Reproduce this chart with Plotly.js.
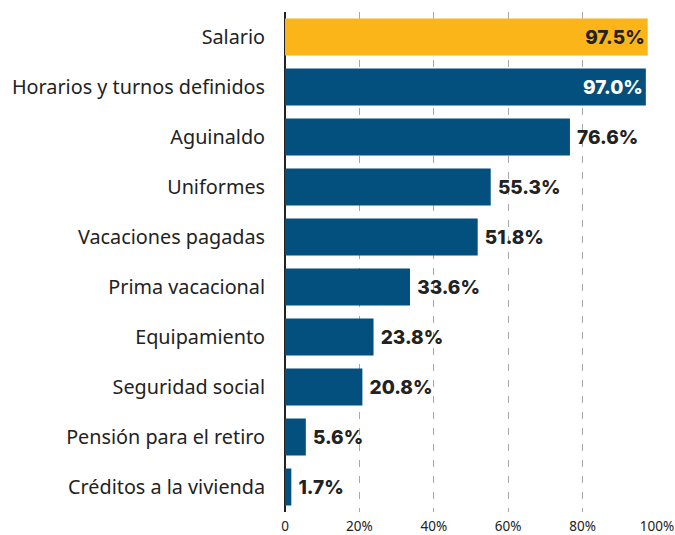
<!DOCTYPE html>
<html><head><meta charset="utf-8">
<script src="https://cdn.plot.ly/plotly-3.0.1.min.js"></script>
<style>body{margin:0;background:#fff}#chart{width:675px;height:535px}</style>
</head><body><div id="chart"></div>
<script>
const categories = ["Salario","Horarios y turnos definidos","Aguinaldo","Uniformes","Vacaciones pagadas","Prima vacacional","Equipamiento","Seguridad social","Pensión para el retiro","Créditos a la vivienda"];
const values = [97.5, 97.0, 76.6, 55.3, 51.8, 33.6, 23.8, 20.8, 5.6, 1.7];
const tickVals = [0, 20, 40, 60, 80, 100];
const tickText = ["0", "20%", "40%", "60%", "80%", "100%"];

const gold = "#FBB519", blue = "#034F7E", dark = "#222222";
const colors = values.map((v,i) => i === 0 ? gold : blue);
const positions = values.map((v,i) => i < 2 ? "inside" : "outside");
const textColors = values.map((v,i) => i === 1 ? "#ffffff" : dark);
const labels = values.map((v,i) => i < 2 ? v.toFixed(1) + "%" : " " + v.toFixed(1) + "%");

const trace = {
  type: "bar", orientation: "h",
  x: values, y: categories,
  marker: {color: colors},
  text: labels,
  textposition: positions,
  insidetextanchor: "end",
  textfont: {family: "Inter", size: 19, color: textColors, weight: 800},
  constraintext: "none",
  cliponaxis: false,
  hoverinfo: "skip"
};

const layout = {
  width: 675, height: 535,
  margin: {l: 285, r: 18, t: 12, b: 23},
  paper_bgcolor: "#fff", plot_bgcolor: "#fff",
  bargap: 0.26,
  showlegend: false,
  font: {family: "Noto Sans", color: dark},
  xaxis: {
    range: [0, 100], tickvals: tickVals, ticktext: tickText,
    showgrid: true, gridcolor: "#a8a8a8", gridwidth: 1.2, griddash: "7px,9px",
    zeroline: true, zerolinecolor: "#222", zerolinewidth: 2,
    ticks: "outside", ticklen: 2, tickcolor: "rgba(0,0,0,0)",
    tickfont: {size: 13.5, color: dark, family: "Noto Sans"}, fixedrange: true
  },
  yaxis: {
    autorange: "reversed", ticks: "outside", ticklen: 15, tickcolor: "rgba(0,0,0,0)",
    tickfont: {size: 19.8, color: dark, family: "Noto Sans"}, showgrid: false, zeroline: false
  }
};
Plotly.newPlot("chart", [trace], layout, {staticPlot: true, displayModeBar: false});
</script></body></html>
